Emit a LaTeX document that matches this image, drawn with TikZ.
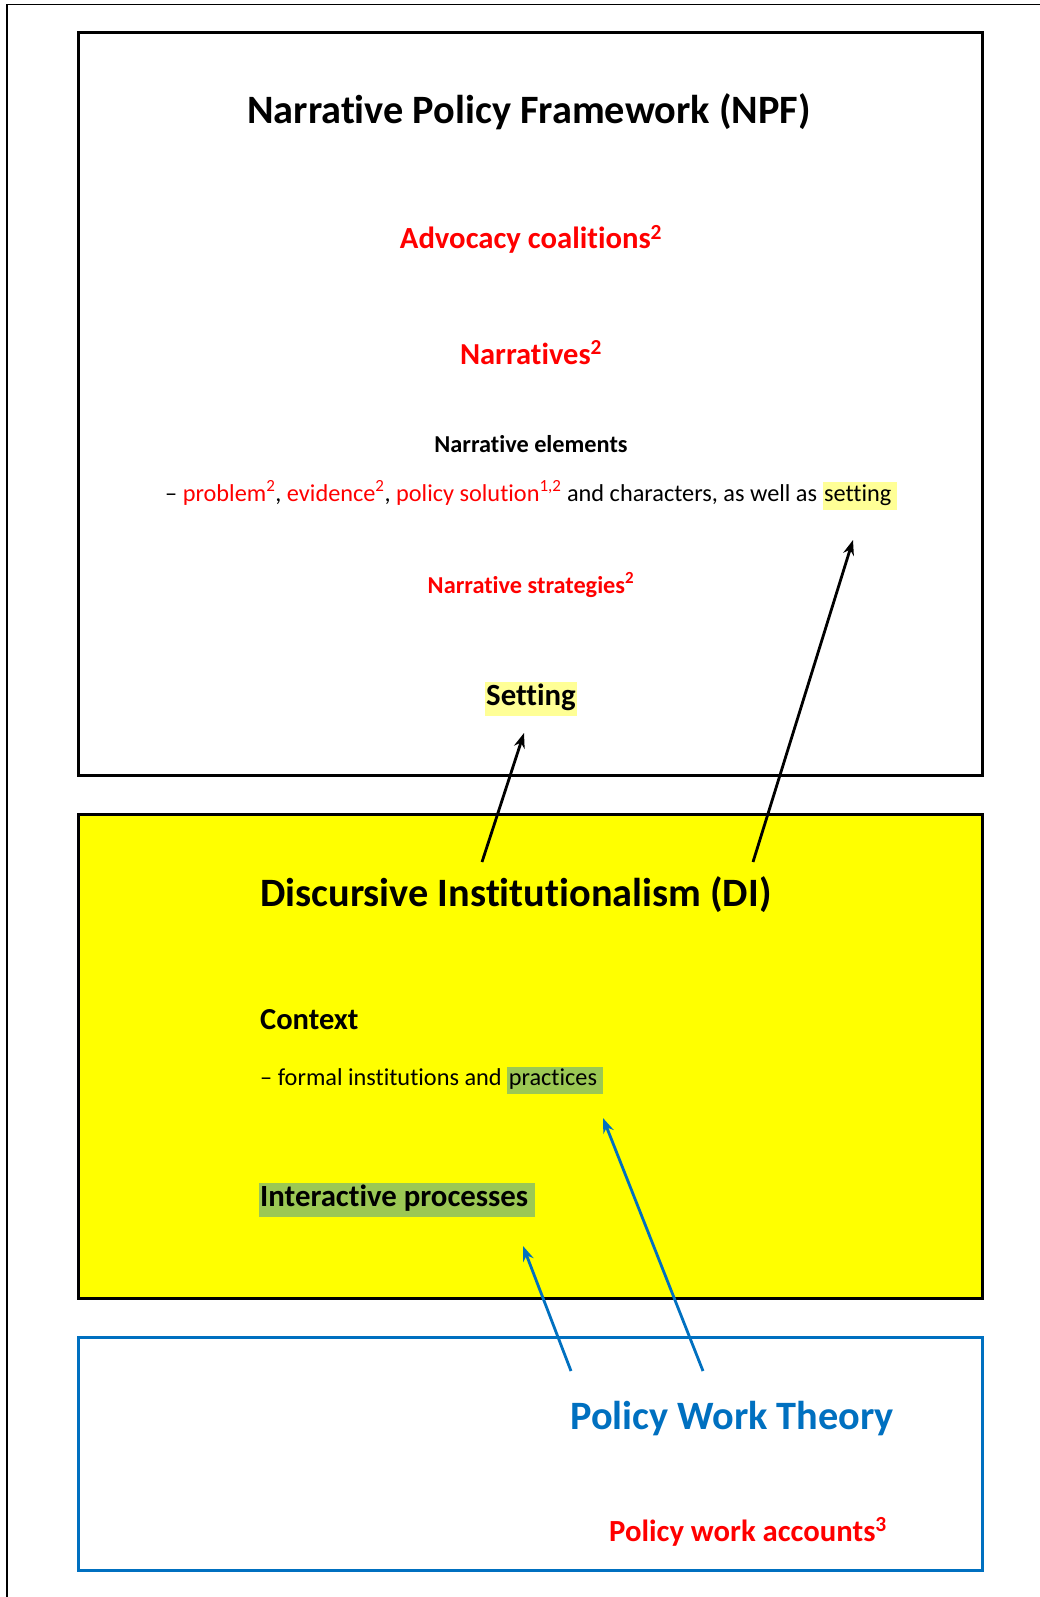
\documentclass[tikz,border=0pt]{standalone}
\usepackage{fontspec}
\setmainfont[Ligatures=NoCommon]{Carlito}
\usetikzlibrary{arrows.meta}
\definecolor{npfred}{RGB}{255,0,0}
\definecolor{diyellow}{RGB}{255,255,0}
\definecolor{pwtblue}{RGB}{0,112,192}
\definecolor{hlyellow}{RGB}{255,255,150}
\definecolor{hlgreen}{RGB}{156,200,84}
\newcommand{\fs}[1]{\fontsize{#1}{#1}\selectfont}
\newcommand{\hly}[1]{{\setlength{\fboxsep}{1.5pt}\colorbox{hlyellow}{\strut #1}}}
\newcommand{\hlg}[1]{{\setlength{\fboxsep}{1.5pt}\colorbox{hlgreen}{\strut #1}}}
\begin{document}
\begin{tikzpicture}[x=1pt,y=-1pt,
  frame/.style={line width=3pt},
  txt/.style={inner sep=0pt,anchor=base},
  ltxt/.style={inner sep=0pt,anchor=base west},
  blackarrow/.style={line width=2.8pt,-{Stealth[length=15pt,width=11pt]}},
  bluearrow/.style={line width=2.8pt,pwtblue,-{Stealth[length=15pt,width=11pt]}}]
\useasboundingbox (0,0) rectangle (1040,1597);
\fill[white] (0,0) rectangle (1040,1597);
% outer frame
\draw[line width=1.2pt] (7,1597) -- (7,4.5) -- (1040,4.5);
% boxes
\draw[frame] (78.5,32.5) rectangle (982.5,775);
\draw[frame,fill=diyellow] (78.5,814) rectangle (982.5,1298);
\draw[frame,pwtblue] (78.5,1337) rectangle (982.5,1570.5);
% NPF texts
\node[txt] (npf) at (529,124) {\fs{40.3}\bfseries Narrative Policy Framework (NPF)};
\node[txt,npfred] (adv) at (531,249) {\fs{30.7}\bfseries Advocacy coalitions\textsuperscript{2}};
\node[txt,npfred] (narr) at (531,364) {\fs{30.5}\bfseries Narratives\textsuperscript{2}};
\node[txt] (nel) at (531,452) {\fs{24.3}\bfseries Narrative elements};
\node[txt] (nline) at (531,501) {\fs{24.3}– \textcolor{npfred}{problem\textsuperscript{2}}, \textcolor{npfred}{evidence\textsuperscript{2}}, \textcolor{npfred}{policy solution\textsuperscript{1,2}} and characters, as well as \hly{setting\,}};
\node[txt,npfred] (nstr) at (531,593) {\fs{24.3}\bfseries Narrative strategies\textsuperscript{2}};
\node[txt] (setting) at (531,705) {\fs{30.8}\bfseries\hly{Setting}};
% DI texts
\node[ltxt] (di) at (260,906) {\fs{40.3}\bfseries Discursive Institutionalism (DI)};
\node[ltxt] (ctx) at (260,1029) {\fs{30.5}\bfseries Context};
\node[ltxt] (formal) at (260,1085) {\fs{24.3}– formal institutions and \hlg{practices\,}};
\node[ltxt] (inter) at (258.5,1206) {\fs{30.8}\bfseries\hlg{Interactive processes\,}};
% PWT texts
\node[ltxt,pwtblue] (pwt) at (570,1429) {\fs{40.3}\bfseries Policy Work Theory};
\node[ltxt,npfred] (pwa) at (609,1541) {\fs{30.7}\bfseries Policy work accounts\textsuperscript{3}};
% arrow end points
\coordinate (a1s) at (482,862);
\coordinate (a1e) at (524,733);
\coordinate (a2s) at (753,862);
\coordinate (a2e) at (853,540);
\coordinate (b1s) at (571,1371);
\coordinate (b1e) at (523,1246);
\coordinate (b2s) at (703,1371);
\coordinate (b2e) at (603,1118);
\draw[blackarrow] (a1s) -- (a1e);
\draw[blackarrow] (a2s) -- (a2e);
\draw[bluearrow] (b1s) -- (b1e);
\draw[bluearrow] (b2s) -- (b2e);
\end{tikzpicture}
\end{document}
